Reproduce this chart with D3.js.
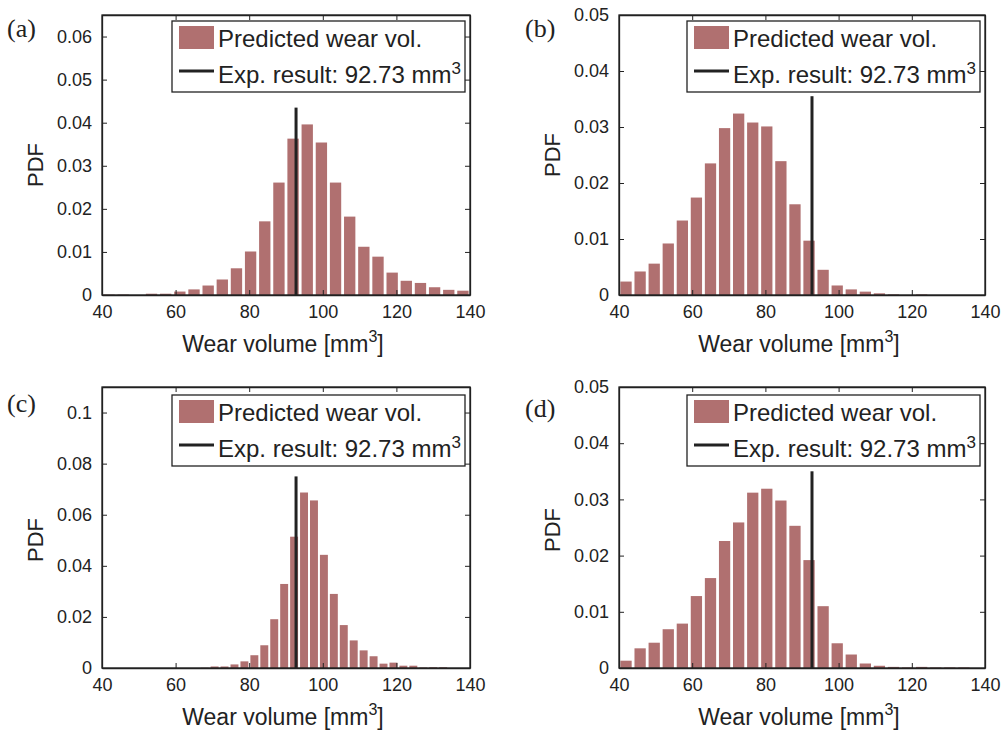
<!DOCTYPE html>
<html>
<head>
<meta charset="utf-8">
<script src="https://cdn.jsdelivr.net/npm/d3@7"></script>
<style>
  body { margin: 0; background: #fff; }
  svg text { font-family: "Liberation Sans", Arial, sans-serif; fill: #222; }
</style>
</head>
<body>
<script>
// bin centres (wear volume, mm^3)
var binsWide = [41.92, 45.77, 49.62, 53.46, 57.31, 61.15, 65.00, 68.85, 72.69, 76.54, 80.38, 84.23, 88.08,
                91.92, 95.77, 99.62, 103.46, 107.31, 111.15, 115.00, 118.85, 122.69, 126.54, 130.38, 134.23, 138.08];
var binsNarrow = [67.9, 70.6, 73.3, 76.0, 78.7, 81.4, 84.1, 86.8, 89.5, 92.2, 94.9, 97.6, 100.3,
                  103.0, 105.7, 108.4, 111.1, 113.8, 116.5, 119.2, 121.9, 124.6, 127.3, 130.0, 132.7];

// PDF values per panel
var pdfA = [0.0001, 0.0001, 0, 0.0003, 0.0003, 0.0008, 0.0013, 0.0022, 0.0036, 0.0062, 0.0101, 0.0171, 0.0261,
            0.0363, 0.0396, 0.0354, 0.0261, 0.0182, 0.0112, 0.0089, 0.0052, 0.0033, 0.0028, 0.0018, 0.0012, 0.0010];
var pdfB = [0.0024, 0.0042, 0.0056, 0.0092, 0.0133, 0.0174, 0.0235, 0.0298, 0.0324, 0.0308, 0.0301, 0.0239, 0.0162,
            0.0097, 0.0045, 0.0017, 0.0010, 0.0006, 0.0003, 0.0001, 0, 0.0001, 0, 0, 0, 0];
var pdfC = [0.0001, 0.0006, 0.0006, 0.0014, 0.0026, 0.0050, 0.0089, 0.0191, 0.0329, 0.0514, 0.0687, 0.0656, 0.0443,
            0.0290, 0.0168, 0.0108, 0.0069, 0.0046, 0.0017, 0.0021, 0.0009, 0.0009, 0.0002, 0.0003, 0.0003];
var pdfD = [0.0013, 0.0035, 0.0045, 0.0069, 0.0079, 0.0128, 0.0160, 0.0226, 0.0259, 0.0312, 0.0319, 0.0298, 0.0253,
            0.0192, 0.0110, 0.0044, 0.0024, 0.0008, 0.0004, 0.0002, 0.0001, 0.0002, 0.0001, 0.0001, 0.0001, 0];

var expResult = 92.73;
var expLineTop = [0.0435, 0.0355, 0.075, 0.035];

var xTicks = [40, 60, 80, 100, 120, 140];
var yTicksA = [0, 0.01, 0.02, 0.03, 0.04, 0.05, 0.06];
var yTicksB = [0, 0.01, 0.02, 0.03, 0.04, 0.05];
var yTicksC = [0, 0.02, 0.04, 0.06, 0.08, 0.1];
var yMax = [0.065, 0.05, 0.11, 0.05];
var panelLabels = ["(a)", "(b)", "(c)", "(d)"];

var barColor = "#b07070";
var ink = "#222";

var svg = d3.select("body").append("svg")
    .attr("width", 1004)
    .attr("height", 733);

var panels = [
  {bins: binsWide,   pdf: pdfA, ticks: yTicksA, x0: 102, x1: 470, y0: 15,  y1: 295, lab: [7, 37],    pdfLab: [35, 165]},
  {bins: binsWide,   pdf: pdfB, ticks: yTicksB, x0: 619, x1: 985, y0: 15,  y1: 295, lab: [525, 37],  pdfLab: [552, 155]},
  {bins: binsNarrow, pdf: pdfC, ticks: yTicksC, x0: 102, x1: 470, y0: 387, y1: 668, lab: [7, 412],   pdfLab: [35, 540]},
  {bins: binsWide,   pdf: pdfD, ticks: yTicksB, x0: 619, x1: 985, y0: 387, y1: 668, lab: [525, 417], pdfLab: [552, 530]}
];

panels.forEach(function(p, i) {
  var x = d3.scaleLinear().domain([40, 140]).range([p.x0, p.x1]);
  var y = d3.scaleLinear().domain([0, yMax[i]]).range([p.y1, p.y0]);
  var g = svg.append("g");
  var step = p.bins[1] - p.bins[0];
  var bw = x(40 + step * 0.8) - x(40);

  // bars
  g.selectAll("rect.bar")
    .data(p.bins)
    .enter()
    .append("rect")
    .attr("class", "bar")
    .attr("x", function(d) { return x(d) - bw / 2; })
    .attr("width", bw)
    .attr("y", function(d, j) { return y(p.pdf[j]); })
    .attr("height", function(d, j) { return p.y1 - y(p.pdf[j]); })
    .style("fill", barColor);

  // experimental result
  g.append("line")
    .attr("x1", x(expResult)).attr("x2", x(expResult))
    .attr("y1", y(0)).attr("y2", y(expLineTop[i]))
    .style("stroke", ink)
    .style("stroke-width", 3);

  // axes, ticks pointing inward on all four sides
  var fmt = function(d) { return d3.format("~g")(d); };
  var bottom = g.append("g").attr("transform", "translate(0," + p.y1 + ")")
    .call(d3.axisBottom(x).tickValues(xTicks).tickSizeInner(-5).tickSizeOuter(0).tickPadding(10));
  var top = g.append("g").attr("transform", "translate(0," + p.y0 + ")")
    .call(d3.axisTop(x).tickValues(xTicks).tickSizeInner(-5).tickSizeOuter(0).tickFormat(""));
  var left = g.append("g").attr("transform", "translate(" + p.x0 + ",0)")
    .call(d3.axisLeft(y).tickValues(p.ticks).tickSizeInner(-5).tickSizeOuter(0).tickPadding(10).tickFormat(fmt));
  var right = g.append("g").attr("transform", "translate(" + p.x1 + ",0)")
    .call(d3.axisRight(y).tickValues(p.ticks).tickSizeInner(-5).tickSizeOuter(0).tickFormat(""));

  [bottom, top, left, right].forEach(function(a) {
    a.selectAll("path").style("stroke", ink).style("stroke-width", 1.3);
    a.selectAll("line").style("stroke", ink).style("stroke-width", 1);
    a.selectAll("text").style("font-size", "18px").style("fill", ink)
      .style("font-family", "'Liberation Sans', Arial, sans-serif");
  });
  // close the box
  g.append("rect")
    .attr("x", p.x0).attr("y", p.y0)
    .attr("width", p.x1 - p.x0).attr("height", p.y1 - p.y0)
    .style("fill", "none").style("stroke", ink).style("stroke-width", 1.3);

  // x label
  var xl = g.append("text")
    .attr("x", (p.x0 + p.x1) / 2 - 3)
    .attr("y", p.y1 + 57)
    .attr("text-anchor", "middle")
    .style("font-size", "23px");
  xl.append("tspan").text("Wear volume [mm");
  xl.append("tspan").attr("dy", -10).style("font-size", "16px").text("3");
  xl.append("tspan").attr("dy", 10).text("]");

  // y label
  g.append("text")
    .attr("transform", "translate(" + p.pdfLab[0] + "," + p.pdfLab[1] + ") rotate(-90)")
    .attr("text-anchor", "middle")
    .attr("dy", "0.36em")
    .style("font-size", "22px")
    .text("PDF");

  // panel label
  g.append("text")
    .attr("x", p.lab[0]).attr("y", p.lab[1])
    .style("font-family", "'Liberation Serif', 'Times New Roman', serif")
    .style("font-size", "26px")
    .text(panelLabels[i]);

  // legend
  var lx = p.x1 - 298, ly = p.y0 + (i < 2 ? 6 : 8);
  var lg = g.append("g").attr("transform", "translate(" + lx + "," + ly + ")");
  lg.append("rect")
    .attr("width", 293).attr("height", 71)
    .style("fill", "#fff").style("stroke", ink).style("stroke-width", 1.3);
  lg.append("rect")
    .attr("x", 7).attr("y", 5).attr("width", 35).attr("height", 23)
    .style("fill", barColor);
  lg.append("line")
    .attr("x1", 7).attr("x2", 42).attr("y1", 50).attr("y2", 50)
    .style("stroke", ink).style("stroke-width", 3);
  lg.append("text")
    .attr("x", 46).attr("y", 25.5)
    .style("font-size", "24px")
    .text("Predicted wear vol.");
  var t2 = lg.append("text")
    .attr("x", 46).attr("y", 61.5)
    .style("font-size", "24px");
  t2.append("tspan").text("Exp. result: 92.73 mm");
  t2.append("tspan").attr("dy", -9).style("font-size", "17px").text("3");
});
</script>
</body>
</html>
